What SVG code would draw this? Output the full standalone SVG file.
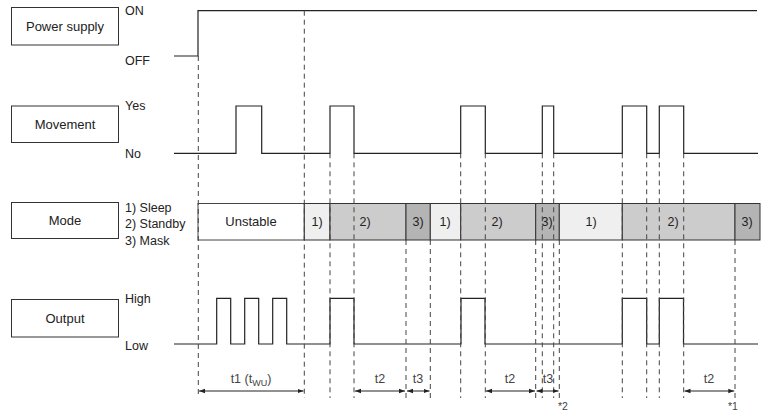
<svg xmlns="http://www.w3.org/2000/svg" width="767" height="412" viewBox="0 0 767 412">
<style>
text{font-family:"Liberation Sans",Arial,sans-serif;font-size:12.5px;fill:#222}
.box{fill:#fff;stroke:#333;stroke-width:1}
.bl{font-size:13px}
.sig{fill:none;stroke:#222;stroke-width:1.2}
.dash{stroke:#444;stroke-width:1;stroke-dasharray:5,4;fill:none}
.arr{stroke:#222;stroke-width:1;fill:none;marker-start:url(#ah);marker-end:url(#ah)}
.m1{fill:#efefef;stroke:#333}
.m2{fill:#cccccc;stroke:#333}
.m3{fill:#b4b4b4;stroke:#333}
.mt{text-anchor:middle}
.s{font-size:9px}
.n{font-size:10.5px}
.tl{fill:#444}
</style>
<defs>
<marker id="ah" viewBox="0 0 8 8" refX="8" refY="4" markerWidth="6" markerHeight="6" orient="auto-start-reverse" markerUnits="userSpaceOnUse">
<path d="M0,1 L8,4 L0,7 z" fill="#222"/>
</marker>
</defs>
<rect width="767" height="412" fill="#fff"/>

<g id="power">
<rect class="box" x="11.5" y="7.5" width="107" height="37.5"/>
<text x="65" y="31" class="mt bl">Power supply</text>
<text x="125" y="15">ON</text>
<text x="125" y="65">OFF</text>
</g>
<g id="movement">
<rect class="box" x="11.5" y="106" width="107" height="36.5"/>
<text x="65" y="129" class="mt bl">Movement</text>
<text x="125" y="110">Yes</text>
<text x="125" y="158">No</text>
</g>
<g id="mode">
<rect class="box" x="11.5" y="202.5" width="107" height="36"/>
<text x="65" y="225" class="mt bl">Mode</text>
<text x="125" y="212">1) Sleep</text>
<text x="125" y="228">2) Standby</text>
<text x="125" y="245">3) Mask</text>
</g>
<g id="output">
<rect class="box" x="11.5" y="299.5" width="107" height="37.5"/>
<text x="65" y="323" class="mt bl">Output</text>
<text x="125" y="303">High</text>
<text x="125" y="350">Low</text>
</g>

<g id="mode-bar">
<rect x="198" y="203.5" width="106.3" height="36.5" fill="#fff" stroke="#444"/>
<rect class="m1" x="304.3" y="203.5" width="25.7" height="36.5"/>
<rect class="m2" x="330" y="203.5" width="76" height="36.5"/>
<rect class="m3" x="406" y="203.5" width="24.3" height="36.5"/>
<rect class="m1" x="430.3" y="203.5" width="30.4" height="36.5"/>
<rect class="m2" x="460.7" y="203.5" width="75" height="36.5"/>
<rect class="m3" x="535.7" y="203.5" width="23.6" height="36.5"/>
<rect class="m1" x="559.3" y="203.5" width="63" height="36.5"/>
<rect class="m2" x="622.3" y="203.5" width="112.7" height="36.5"/>
<rect class="m3" x="735" y="203.5" width="25" height="36.5"/>
<text x="251" y="226" class="mt bl">Unstable</text>
<text x="317" y="226" class="mt">1)</text>
<text x="365" y="226" class="mt">2)</text>
<text x="418" y="226" class="mt">3)</text>
<text x="445" y="226" class="mt">1)</text>
<text x="497" y="226" class="mt">2)</text>
<text x="547" y="226" class="mt">3)</text>
<text x="591" y="226" class="mt">1)</text>
<text x="673" y="226" class="mt">2)</text>
<text x="747" y="226" class="mt">3)</text>
</g>

<g id="signals">
<path class="sig" d="M174,56 H198 V10.7 H757"/>
<path class="sig" d="M174,153.3 H236 V106 H261.7 V153.3 H330 V106 H354 V153.3 H460.7 V106 H485.3 V153.3 H542.3 V106 H553.7 V153.3 H622.3 V106 H646.7 V153.3 H659.3 V106 H683.7 V153.3 H758"/>
<path class="sig" d="M174,344 H216.7 V298.3 H230.7 V344 H244.7 V298.3 H258.7 V344 H272.7 V298.3 H286.7 V344 H330 V298.3 H354 V344 H461 V298.3 H485 V344 H622.3 V298.3 H646.7 V344 H659.3 V298.3 H683.5 V344 H758"/>
</g>

<g id="connectors">
<path class="dash" d="M198.3,56 V398 M304.3,10.7 V398 M330,153.3 V398 M354,153.3 V398 M406,240 V398 M430.3,240 V398 M460.7,153.3 V398 M485.3,153.3 V398 M535.7,240 V398 M542.3,153.3 V398 M553.7,153.3 V398 M559.3,240 V398 M622.3,153.3 V398 M646.7,153.3 V398 M659.3,153.3 V398 M683.7,153.3 V398 M735,240 V398"/>
<line class="arr" x1="199" y1="391" x2="303.5" y2="391"/>
<line class="arr" x1="355" y1="391" x2="405" y2="391"/>
<line class="arr" x1="407" y1="391" x2="429.5" y2="391"/>
<line class="arr" x1="486" y1="391" x2="535" y2="391"/>
<line class="arr" x1="536.5" y1="391" x2="558.5" y2="391"/>
<line class="arr" x1="684.5" y1="391" x2="734.3" y2="391"/>
</g>

<g id="timing-labels">
<text x="251" y="383" class="mt tl">t1 (t<tspan class="s" dy="3">WU</tspan><tspan dy="-3">)</tspan></text>
<text x="380" y="383" class="mt tl">t2</text>
<text x="418" y="383" class="mt tl">t3</text>
<text x="510" y="383" class="mt tl">t2</text>
<text x="548" y="383" class="mt tl">t3</text>
<text x="709" y="383" class="mt tl">t2</text>
<text x="563" y="410" class="mt n tl">*2</text>
<text x="733" y="410" class="mt n tl">*1</text>
</g>
</svg>
